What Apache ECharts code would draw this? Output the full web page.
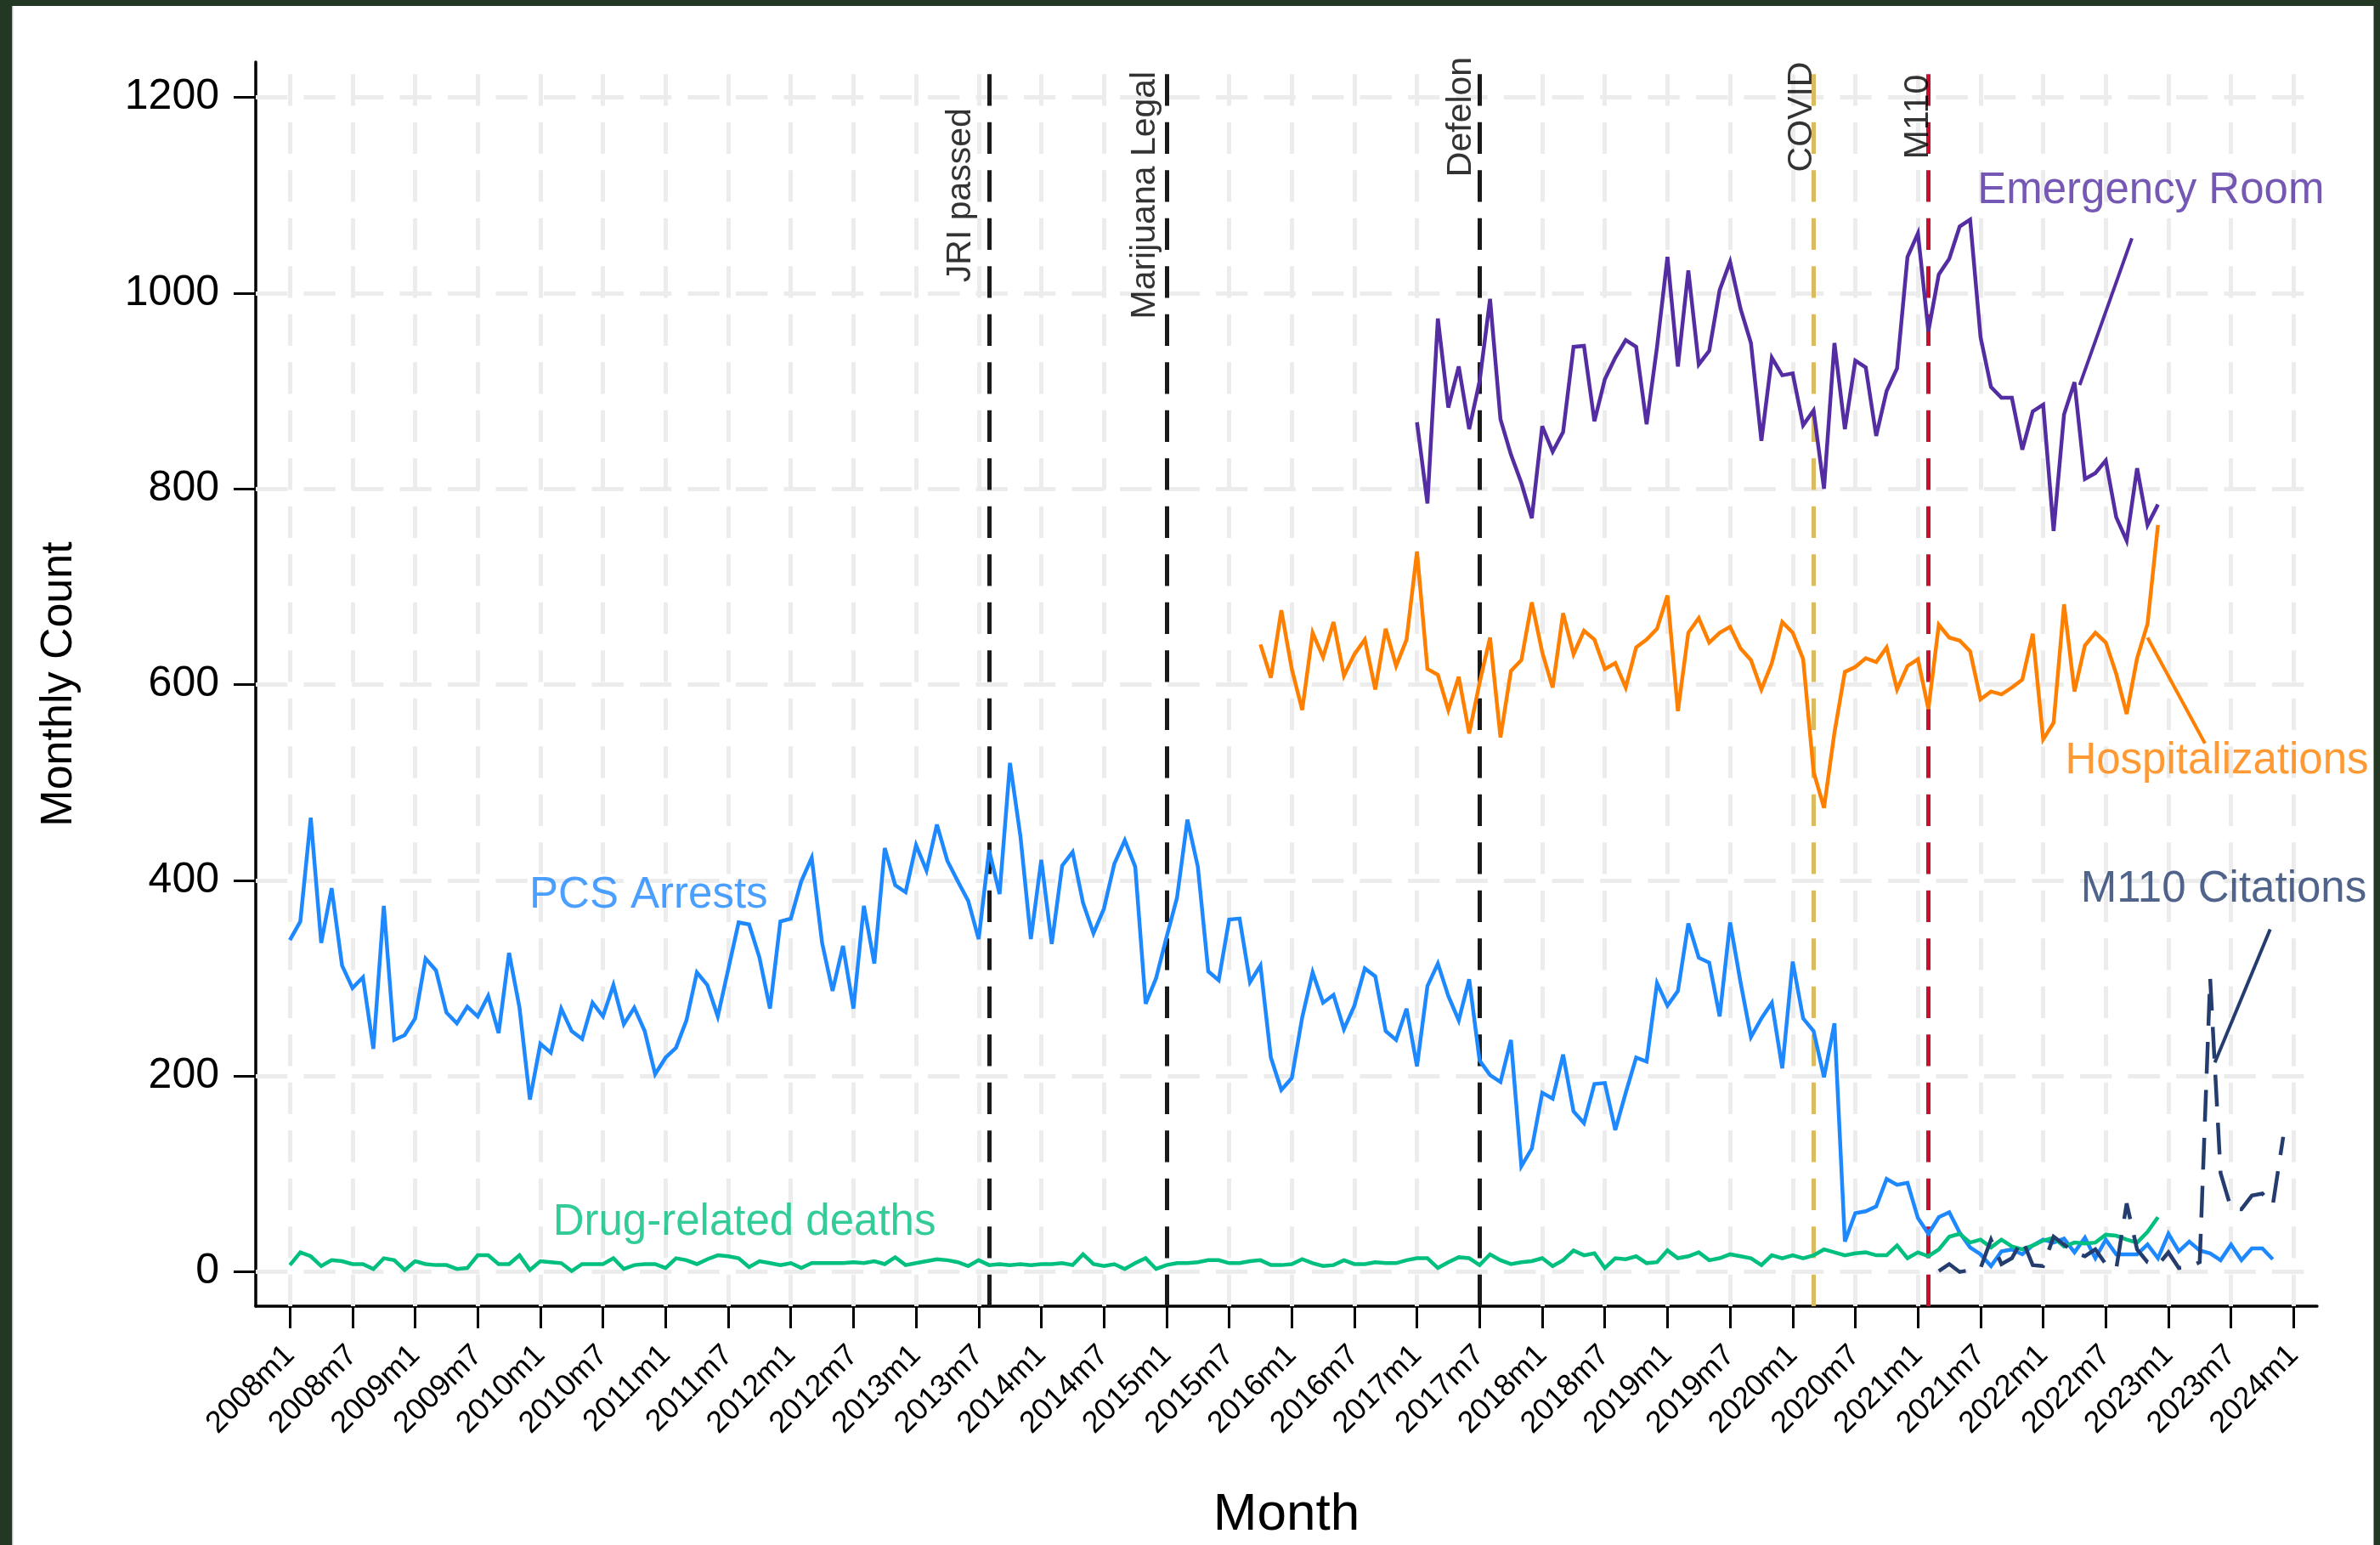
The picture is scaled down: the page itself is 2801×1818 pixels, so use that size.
<!DOCTYPE html>
<html>
<head>
<meta charset="utf-8">
<script src="https://cdn.jsdelivr.net/npm/echarts@6/dist/echarts.min.js"></script>
<style>
  html, body { margin: 0; padding: 0; background: #ffffff; }
  #chart { width: 2801px; height: 1818px; }
</style>
</head>
<body>
<div id="chart"></div>
<script>
// ---- Axis ticks ----
const tickLabels = ['2008m1','2008m7','2009m1','2009m7','2010m1','2010m7','2011m1','2011m7',
  '2012m1','2012m7','2013m1','2013m7','2014m1','2014m7','2015m1','2015m7','2016m1','2016m7',
  '2017m1','2017m7','2018m1','2018m7','2019m1','2019m7','2020m1','2020m7','2021m1','2021m7',
  '2022m1','2022m7','2023m1','2023m7','2024m1'];
const countTicks = [0, 200, 400, 600, 800, 1000, 1200];

// ---- Policy events ----
const eventMonths = ['2013m8', '2015m1', '2017m7', '2020m3', '2021m2'];
const eventNames = ['JRI passed', 'Marijuana Legal', 'Defelon', 'COVID', 'M110'];

// ---- Monthly counts (each series starts at its own first month) ----
const pcsStart = '2008m1';
const pcsArrests = [
  339,358,464,336,392,313,290,301,228,374,
  237,242,259,320,308,265,254,271,261,282,
  244,326,270,176,233,224,269,246,238,275,
  261,293,253,270,246,202,219,229,257,306,
  293,261,309,357,355,321,269,358,361,399,
  423,336,287,333,269,374,315,433,395,388,
  436,410,457,420,399,379,
  340,431,386,520,445,340,421,335,415,429,
  377,346,371,417,441,414,274,300,342,382,
  462,414,307,298,360,361,296,313,219,186,
  198,260,306,275,283,248,272,310,302,246,
  237,269,210,292,315,282,257,299,216,201,
  194,237,108,126,183,177,222,164,152,192,
  193,145,183,219,215,295,
  272,287,356,321,316,261,357,296,240,259,
  275,208,317,259,246,199,254,31,60,62,
  67,95,89,91,55,39,56,61,40,25,
  18,6,21,23,18,27,33,30,34,20,
  35,14,33,18,18,18,28,14,39,21,
  31,22,19,12,28,12,24,24,13
];

const deathsStart = '2008m1';
const drugDeaths = [
  7,20,16,6,12,11,8,8,3,14,
  12,2,11,8,7,7,3,4,17,17,
  8,8,17,2,11,10,9,1,8,8,
  8,14,3,7,8,8,4,14,12,8,
  13,17,16,14,5,11,9,7,9,4,
  9,9,9,9,10,9,11,8,15,7,
  9,11,13,12,10,6,12,7,8,7,
  8,7,8,8,9,7,18,8,6,8,
  3,9,14,3,7,9,9,10,12,12,
  9,9,11,12,7,7,8,13,9,
  6,7,12,8,8,10,9,9,12,14,
  14,4,10,15,14,7,18,12,8,10,
  11,14,6,12,22,17,19,4,14,13,
  16,9,10,22,14,16,20,12,14,18,
  16,14,7,17,14,17,14,17,23,20,
  17,19,20,17,17,27,14,20,16,23,
  36,39,30,33,25,33,26,23,27,32,
  35,26,30,29,30,38,37,33,30,41,
  56
];

const erStart = '2017m1';
const erVisits = [
  868,785,974,883,925,861,910,994,871,835,
  806,770,864,838,858,945,946,869,912,934,
  952,945,866,945,1037,925,1023,927,941,1003,
  1032,984,949,849,934,916,918,865,880,800,
  949,861,931,924,854,900,923,1037,1061,961,
  1019,1035,1068,1075,955,904,893,893,840,879,
  886,757,876,909,810,816,829,771,747,821,
  763,784
];

const hospStart = '2015m10';
const hospitalizations = [
  641,607,676,616,574,653,628,664,609,631,
  646,595,657,619,646,736,616,610,574,608,
  550,602,648,546,614,625,684,633,597,673,
  631,655,646,616,622,597,638,646,657,691,
  573,653,668,643,653,659,637,625,595,622,
  664,653,626,511,474,551,613,618,627,623,
  638,595,619,626,575,661,648,645,634,585,
  593,590,597,605,652,544,561,682,593,640,
  653,643,611,570,627,662,763
];

const citeStart = '2021m3';
const m110Citations = [
  1,8,0,2,4,33,8,14,33,7,
  6,36,28,20,16,23,8,3,70,23,
  10,7,20,4,5,10,300,101,65,64,
  78,80,68,138
];

// ---- helpers ----
function monthIndex(label) {
  const parts = label.split('m');
  return (Number(parts[0]) - 2008) * 12 + (Number(parts[1]) - 1);
}
function toPoints(startLabel, values) {
  const s = monthIndex(startLabel);
  return values.map((v, i) => [s + i, v]);
}
const tickValues = tickLabels.map(monthIndex);

// ---- styling ----
const FONT = '"Liberation Sans", Arial, Helvetica, sans-serif';
const C_PCS = '#1e88ff';
const C_DEATH = '#00bf7f';
const C_ER = '#532da1';
const C_HOSP = '#ff8000';
const C_CITE = '#243d6e';
const eventColors = ['#1a1a1a', '#1a1a1a', '#1a1a1a', '#dbbb60', '#c8102e'];
const DASH = [37.3, 19.2];
const BORDER = '#223822';

function lineSeries(name, points, color, extra) {
  return Object.assign({
    name: name,
    type: 'line',
    data: points,
    showSymbol: false,
    symbol: 'none',
    silent: true,
    z: 2,
    lineStyle: { color: color, width: 4.5, join: 'miter', miterLimit: 4 },
    emphasis: { disabled: true }
  }, extra || {});
}

// series name captions inside the plot (left edge, vertical middle)
const seriesNotes = [
  { name: 'PCS Arrests', value: [22.95, 384], color: C_PCS },
  { name: 'Drug-related deaths', value: [25.2, 50.5], color: C_DEATH },
  { name: 'Emergency Room', value: [161.7, 1104.5], color: C_ER },
  { name: 'Hospitalizations', value: [170.1, 521.5], color: C_HOSP },
  { name: 'M110 Citations', value: [171.6, 390.5], color: C_CITE }
];
// vertical event captions, centred along their own text
const eventNoteX = [64.25, 81.95, 112.2, 144.86, 156.0];
const eventNoteY = [1100, 1100, 1180, 1180, 1180];

// leader lines from captions to the series
const leaders = [
  { color: C_ER, pts: [[171.5, 906], [176.5, 1056]] },
  { color: C_HOSP, pts: [[178.0, 648], [183.5, 540]] },
  { color: C_CITE, pts: [[184.45, 214], [189.75, 350]] }
];

const noteData = seriesNotes.map(n => ({
  name: n.name,
  value: n.value,
  label: { color: n.color, fontSize: 51, align: 'left', verticalAlign: 'middle' }
})).concat(eventNames.map((nm, i) => ({
  name: nm,
  value: [eventNoteX[i], eventNoteY[i]],
  label: { color: '#000000', fontSize: 41, rotate: 90, align: 'center', verticalAlign: 'middle' }
})));

const series = [
  lineSeries('PCS Arrests', toPoints(pcsStart, pcsArrests), C_PCS, {
    markLine: {
      silent: true, z: 0.5, symbol: ['none', 'none'], animation: false,
      label: { show: false },
      lineStyle: { color: '#ececec', width: 5, type: DASH },
      emphasis: { disabled: true },
      data: tickValues.map(v => ({ xAxis: v })).concat(countTicks.map(v => ({ yAxis: v })))
    }
  }),
  lineSeries('Drug-related deaths', toPoints(deathsStart, drugDeaths), C_DEATH, {
    markLine: {
      silent: true, z: 1, symbol: ['none', 'none'], animation: false,
      label: { show: false },
      lineStyle: { width: 5, type: DASH },
      emphasis: { disabled: true },
      data: eventMonths.map((m, i) => ({ xAxis: monthIndex(m), lineStyle: { color: eventColors[i], width: 5, type: DASH } }))
    }
  }),
  lineSeries('Emergency Room', toPoints(erStart, erVisits), C_ER),
  lineSeries('Hospitalizations', toPoints(hospStart, hospitalizations), C_HOSP),
  lineSeries('M110 Citations', toPoints(citeStart, m110Citations), C_CITE, {
    lineStyle: { color: C_CITE, width: 4.5, type: DASH, join: 'miter', miterLimit: 4 }
  })
].concat(leaders.map(l => lineSeries('leader', l.pts, l.color, {
  lineStyle: { color: l.color, width: 4, cap: 'butt' }
}))).concat([{
  type: 'scatter',
  silent: true,
  z: 4,
  symbolSize: 0,
  data: noteData,
  label: { show: true, position: 'inside', formatter: '{b}', fontFamily: FONT },
  emphasis: { disabled: true }
}]);

const chart = echarts.init(document.getElementById('chart'), null, { renderer: 'canvas', width: 2801, height: 1818 });
chart.setOption({
  animation: false,
  backgroundColor: '#ffffff',
  textStyle: { fontFamily: FONT },
  grid: { left: 301, right: 74, top: 73, bottom: 281, containLabel: false, outerBoundsMode: 'none' },
  xAxis: {
    type: 'value', min: -3.27, max: 194.25,
    name: 'Month', nameLocation: 'middle', nameGap: 215,
    nameTextStyle: { fontSize: 62, color: '#000000', fontFamily: FONT },
    axisLine: { show: true, onZero: false, lineStyle: { color: '#000000', width: 3.5 } },
    axisTick: { show: true, length: 26, customValues: tickValues, lineStyle: { color: '#000000', width: 3 } },
    axisLabel: {
      customValues: tickValues,
      formatter: v => tickLabels[tickValues.indexOf(v)],
      rotate: 45, fontSize: 36, margin: 52, color: '#000000', fontFamily: FONT
    },
    splitLine: { show: false }
  },
  yAxis: {
    type: 'value', min: -35, max: 1236,
    name: 'Monthly Count', nameLocation: 'middle', nameGap: 205,
    nameTextStyle: { fontSize: 52, color: '#000000', fontFamily: FONT },
    axisLine: { show: true, onZero: false, lineStyle: { color: '#000000', width: 3.5 } },
    axisTick: { show: true, length: 26, customValues: countTicks, lineStyle: { color: '#000000', width: 3 } },
    axisLabel: {
      customValues: countTicks,
      formatter: v => String(v),
      fontSize: 50, margin: 43, color: '#000000', fontFamily: FONT
    },
    splitLine: { show: false }
  },
  graphic: [
    { type: 'rect', silent: true, z: 100, shape: { x: 0, y: 0, width: 2801, height: 7 }, style: { fill: BORDER } },
    { type: 'rect', silent: true, z: 100, shape: { x: 0, y: 0, width: 14, height: 1818 }, style: { fill: BORDER } },
    { type: 'rect', silent: true, z: 100, shape: { x: 2793.5, y: 0, width: 7.5, height: 1818 }, style: { fill: BORDER } },
    { type: 'rect', silent: true, z: 100, shape: { x: 14, y: 7, width: 1.3, height: 1811 }, style: { fill: '#b5b5b5' } }
  ],
  series: series
});
</script>
</body>
</html>
